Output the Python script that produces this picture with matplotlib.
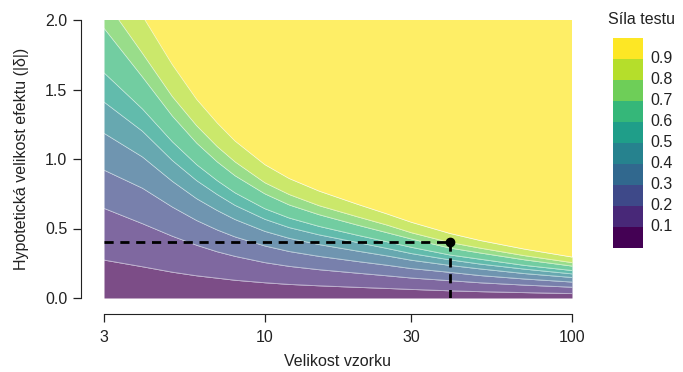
import matplotlib
matplotlib.use("Agg")
import matplotlib.pyplot as plt
import numpy as np
from matplotlib.patches import Rectangle

plt.rcParams['font.family'] = ['Liberation Sans', 'DejaVu Sans']

# Sample sizes at which the contour boundaries were read
sample_n = [3, 4, 5, 6, 7, 8, 10, 12, 15, 20, 25, 30, 40, 50, 70, 100]
# Effect size at which power reaches each level
power_01 = [0.273, 0.225, 0.186, 0.16, 0.143, 0.128, 0.11, 0.098, 0.088, 0.077, 0.069, 0.062, 0.052, 0.046, 0.039, 0.032]
power_02 = [0.645, 0.535, 0.445, 0.38, 0.333, 0.30, 0.255, 0.228, 0.204, 0.179, 0.16, 0.144, 0.125, 0.11, 0.093, 0.078]
power_03 = [0.92, 0.79, 0.655, 0.558, 0.49, 0.44, 0.375, 0.335, 0.30, 0.263, 0.236, 0.212, 0.185, 0.162, 0.137, 0.115]
power_04 = [1.185, 1.015, 0.84, 0.715, 0.63, 0.565, 0.48, 0.43, 0.385, 0.338, 0.303, 0.272, 0.235, 0.21, 0.176, 0.148]
power_05 = [1.41, 1.20, 0.99, 0.845, 0.745, 0.667, 0.567, 0.507, 0.455, 0.40, 0.357, 0.32, 0.275, 0.245, 0.208, 0.174]
power_06 = [1.62, 1.36, 1.125, 0.96, 0.845, 0.757, 0.643, 0.576, 0.516, 0.452, 0.405, 0.365, 0.31, 0.28, 0.235, 0.198]
power_07 = [1.94, 1.59, 1.31, 1.115, 0.98, 0.88, 0.75, 0.67, 0.60, 0.525, 0.47, 0.425, 0.36, 0.325, 0.275, 0.23]
power_08 = [2.15, 1.76, 1.45, 1.24, 1.09, 0.98, 0.83, 0.745, 0.665, 0.585, 0.525, 0.47, 0.40, 0.36, 0.305, 0.255]
power_09 = [2.50, 2.03, 1.68, 1.43, 1.26, 1.13, 0.96, 0.86, 0.77, 0.675, 0.605, 0.545, 0.465, 0.415, 0.352, 0.295]

legend_labels = ["0.1", "0.2", "0.3", "0.4", "0.5", "0.6", "0.7", "0.8", "0.9"]
x_ticks = [3, 10, 30, 100]
y_ticks = [0.0, 0.5, 1.0, 1.5, 2.0]

design_n = 40
design_delta = 0.4

fig = plt.figure(figsize=(6.83, 3.72), dpi=100)
ax = fig.add_axes([104/683, 1-298/372, (572-104)/683, (298-20)/372])

cols = plt.cm.viridis(np.linspace(0, 1, 10))
alpha = 0.7
blend = [tuple(alpha*np.array(c[:3]) + (1-alpha)) for c in cols]

bounds = [np.zeros(len(sample_n)), power_01, power_02, power_03, power_04, power_05,
          power_06, power_07, power_08, power_09, np.full(len(sample_n), 3.0)]
n = np.array(sample_n, dtype=float)
for k in range(10):
    ax.fill_between(n, bounds[k], bounds[k+1], color=blend[k], lw=0, zorder=1)
for k in range(1, 10):
    ax.plot(n, bounds[k], color='white', lw=0.6, alpha=0.5, zorder=2)

ax.set_xscale('log')
ax.set_xlim(3, 100)
ax.set_ylim(0, 2.0)

dash = (0, (3.3, 2.4))
ax.plot([3, design_n], [design_delta, design_delta], color='black', lw=2.0,
        linestyle=dash, zorder=3)
ax.plot([design_n, design_n], [design_delta, 0], color='black', lw=2.0,
        linestyle=dash, zorder=3)
ax.plot([design_n], [design_delta], 'o', color='black', ms=6, zorder=4)

ax.set_xticks(x_ticks)
ax.set_xticklabels([str(t) for t in x_ticks])
ax.xaxis.set_minor_locator(matplotlib.ticker.NullLocator())
ax.set_yticks(y_ticks)
ax.set_yticklabels([f"{t:.1f}" for t in y_ticks])

for s in ['top', 'right']:
    ax.spines[s].set_visible(False)
ax.spines['left'].set_position(('outward', 16.5))
ax.spines['bottom'].set_position(('outward', 11.5))
ax.spines['left'].set_color('#222222')
ax.spines['bottom'].set_color('#222222')
ax.tick_params(direction='out', length=5.8, width=0.9, colors='#222222',
               labelsize=11.5, labelcolor='#222222', pad=4)
ax.tick_params(axis='x', pad=5.5)

ax.set_xlabel("Velikost vzorku", fontsize=11.5, color='#222222')
ax.set_ylabel("Hypotetická velikost efektu (|δ|)", fontsize=11.5, color='#222222', labelpad=12)
ax.xaxis.set_label_coords(0.5, -0.201)

# Legend
lax = fig.add_axes([613/683, 1-248/372, 30/683, 210/372])
lax.set_xlim(0, 1)
lax.set_ylim(0, 10)
for k in range(10):
    lax.add_patch(Rectangle((0, k), 1, 1, color=cols[k], lw=0))
lax.axis('off')
for k, lab in enumerate(legend_labels):
    lax.text(1.25, k+1, lab, fontsize=11.5, va='center', ha='left', color='#222222')
fig.text(608/683, 1-20/372, "Síla testu", fontsize=11.5, va='center', ha='left', color='#222222')

fig.savefig("out.png", dpi=100)
